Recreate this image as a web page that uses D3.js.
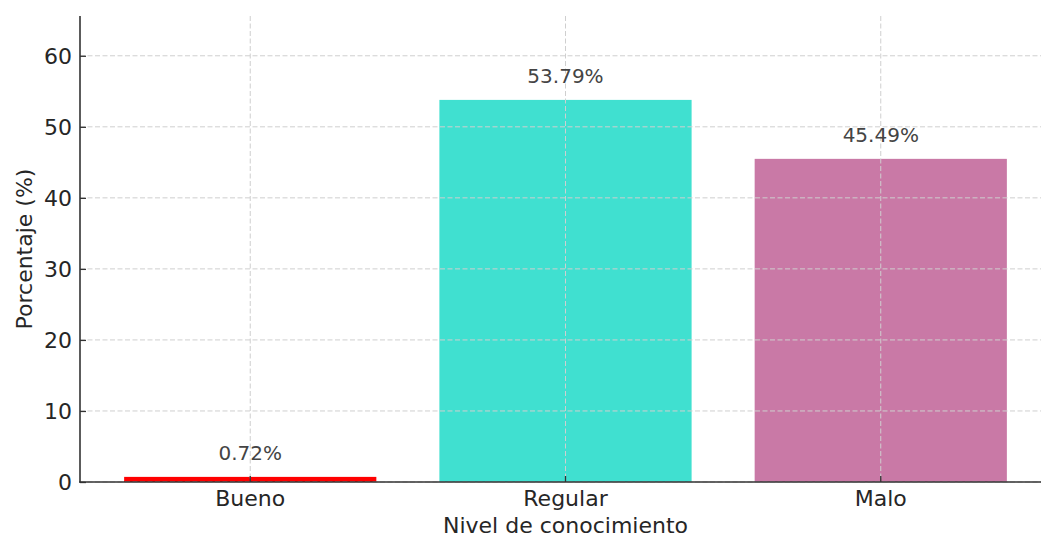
<!DOCTYPE html>
<html lang="es">
<head>
    <meta charset="UTF-8">
    <title>Nivel de conocimiento</title>
    <script src="https://d3js.org/d3.v7.js"></script>
    <style>
        body { margin: 0; background: #fff; }
        text { font-family: "DejaVu Sans", sans-serif; }
    </style>
</head>
<body>
<div id="chart"></div>
<script>
const categories = ["Bueno", "Regular", "Malo"];
const values = [0.72, 53.79, 45.49];
const colors = ["#ff0000", "#40e0d0", "#c979a6"];
const yTicks = [0, 10, 20, 30, 40, 50, 60];

const W = 1041, H = 537;
const plotLeft = 80, plotTop = 16, plotBottom = 482, plotRight = 1051;

const svg = d3.select("#chart")
    .append("svg")
    .attr("width", W)
    .attr("height", H);

// scales
const x = d3.scaleBand()
    .domain(categories)
    .range([plotLeft, plotRight])
    .paddingInner(0.2)
    .paddingOuter(0.14);

const y = d3.scaleLinear()
    .domain([0, 65.6])
    .range([plotBottom, plotTop]);

// bars
svg.selectAll("rect.bar")
    .data(values)
    .enter()
    .append("rect")
    .attr("class", "bar")
    .attr("x", (d, i) => x(categories[i]))
    .attr("y", d => y(d))
    .attr("width", x.bandwidth())
    .attr("height", d => plotBottom - y(d))
    .attr("fill", (d, i) => colors[i]);

// grid (drawn over the bars, like the original)
const grid = svg.append("g")
    .attr("stroke", "#cfcfcf")
    .attr("stroke-width", 1)
    .attr("stroke-dasharray", "5,2.5");

grid.selectAll("line.h")
    .data(yTicks)
    .enter()
    .append("line")
    .attr("x1", plotLeft).attr("x2", plotRight)
    .attr("y1", d => y(d)).attr("y2", d => y(d));

grid.selectAll("line.v")
    .data(categories)
    .enter()
    .append("line")
    .attr("x1", d => x(d) + x.bandwidth() / 2)
    .attr("x2", d => x(d) + x.bandwidth() / 2)
    .attr("y1", plotTop).attr("y2", plotBottom);

// value labels
svg.selectAll("text.val")
    .data(values)
    .enter()
    .append("text")
    .attr("class", "val")
    .attr("x", (d, i) => x(categories[i]) + x.bandwidth() / 2)
    .attr("y", d => y(d) - 17)
    .attr("text-anchor", "middle")
    .style("font-size", "20px")
    .attr("fill", "#444")
    .text(d => d.toFixed(2) + "%");

// y axis, ticks pointing inward
const yAxis = svg.append("g")
    .attr("transform", `translate(${plotLeft},0)`)
    .call(d3.axisLeft(y).tickValues(yTicks).tickSize(-6).tickPadding(8));
yAxis.select(".domain").remove();
yAxis.selectAll(".tick line").attr("stroke", "#333").attr("stroke-width", 1.3);
yAxis.selectAll(".tick text")
    .style("font-size", "22px")
    .attr("fill", "#262626")
    .attr("dy", "0.36em");

svg.append("line")
    .attr("x1", plotLeft).attr("x2", plotLeft)
    .attr("y1", plotTop).attr("y2", plotBottom + 0.7)
    .attr("stroke", "#333").attr("stroke-width", 1.6);

// x axis
const xAxis = svg.append("g")
    .attr("transform", `translate(0,${plotBottom})`)
    .call(d3.axisBottom(x).tickSize(-6).tickPadding(8));
xAxis.select(".domain").remove();
xAxis.selectAll(".tick line").attr("stroke", "#333").attr("stroke-width", 1.3);
xAxis.selectAll(".tick text")
    .style("font-size", "22px")
    .attr("fill", "#262626");

svg.append("line")
    .attr("x1", plotLeft - 0.8).attr("x2", plotRight)
    .attr("y1", plotBottom).attr("y2", plotBottom)
    .attr("stroke", "#333").attr("stroke-width", 1.6);

// axis titles
svg.append("text")
    .attr("x", x("Regular") + x.bandwidth() / 2)
    .attr("y", 533)
    .attr("text-anchor", "middle")
    .style("font-size", "22px")
    .attr("fill", "#262626")
    .text("Nivel de conocimiento");

svg.append("text")
    .attr("transform", `translate(32,${(plotTop + plotBottom) / 2}) rotate(-90)`)
    .attr("text-anchor", "middle")
    .style("font-size", "22px")
    .attr("fill", "#262626")
    .text("Porcentaje (%)");
</script>
</body>
</html>
